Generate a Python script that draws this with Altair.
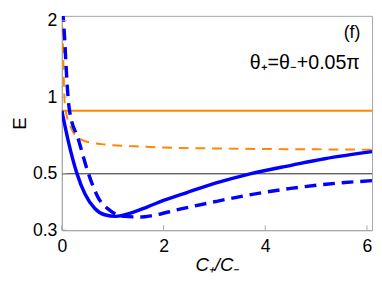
import altair as alt
import pandas as pd

# ---- data ----
x_orange_solid = [0.0, 6.1]
y_orange_solid = [0.885, 0.885]

x_orange_dash = [0.005, 0.02, 0.033, 0.044, 0.058, 0.1, 0.167, 0.231, 0.39, 0.6, 0.776, 1.0, 1.6, 2.0, 3.0, 3.9, 5.0, 6.1]
y_orange_dash = [2.2, 1.67, 1.33, 1.08, 0.94, 0.84, 0.77, 0.725, 0.68, 0.662, 0.654, 0.648, 0.639, 0.634, 0.629, 0.626, 0.624, 0.622]

x_blue_solid = [0.0, 0.135, 0.295, 0.456, 0.649, 0.841, 1.064, 1.35, 1.675, 2.0, 2.46, 3.0, 3.7, 4.53, 5.17, 6.1]
y_blue_solid = [0.885, 0.662, 0.503, 0.416, 0.365, 0.345, 0.340, 0.350, 0.370, 0.393, 0.422, 0.458, 0.500, 0.541, 0.573, 0.611]

x_blue_dash = [0.015, 0.058, 0.083, 0.11, 0.15, 0.327, 0.52, 0.712, 0.937, 1.226, 1.55, 1.8, 2.3, 3.0, 3.6, 4.5, 5.2, 6.1]
y_blue_dash = [2.2, 1.67, 1.33, 1.08, 0.89, 0.681, 0.503, 0.404, 0.360, 0.340, 0.338, 0.343, 0.362, 0.388, 0.410, 0.438, 0.455, 0.470]

x_ref_line = [0.0, 6.1]
y_ref_line = [0.5, 0.5]

x_tick_values = [0, 2, 4, 6]
y_tick_values = [0.3, 0.5, 1, 2]

label_text = ["(f)", "θ₊=θ₋+0.05π"]
label_x = [5.87, 5.86]
label_y = [1.79, 1.365]
label_size = [18, 20]

# ---- scales / axes ----
W, H = 317, 219
FONT = "Liberation Sans"
FRAME = "#a6a6a6"
xs = alt.Scale(domain=[0, 6.1], nice=False, zero=False)
ys = alt.Scale(type="log", domain=[0.3, 2.09], nice=False)

xaxis = alt.Axis(values=x_tick_values, title="C₊/C₋", ticks=False, grid=False,
                 labelPadding=8, titlePadding=0, titleFontStyle="italic",
                 labelFlush=False)
yaxis = alt.Axis(values=y_tick_values, title="E", ticks=False, grid=False, format="~g",
                 labelPadding=5, titleAngle=-90, titleX=-37, titleY=H / 2,
                 titleAlign="center", titleBaseline="alphabetic", labelFlush=False)


def enc(df):
    return alt.Chart(df).encode(
        x=alt.X("x:Q", scale=xs, axis=xaxis),
        y=alt.Y("y:Q", scale=ys, axis=yaxis),
    )


def line(x, y, color, width, dash=None):
    df = pd.DataFrame({"x": x, "y": y})
    kw = dict(color=color, strokeWidth=width, clip=True, interpolate="monotone")
    if dash:
        kw["strokeDash"] = dash
    return enc(df).mark_line(**kw)


ref = line(x_ref_line, y_ref_line, "#222222", 1)
o_solid = line(x_orange_solid, y_orange_solid, "#ff8800", 2)
o_dash = line(x_orange_dash, y_orange_dash, "#ff8800", 2, [10, 7])
b_solid = line(x_blue_solid, y_blue_solid, "#0000ff", 3.5)
b_dash = line(x_blue_dash, y_blue_dash, "#0000ff", 3.5, [12, 7])

# inward ticks
xt = alt.Chart(pd.DataFrame({"x": x_tick_values})).mark_rule(color=FRAME, strokeWidth=1).encode(
    x=alt.X("x:Q", scale=xs, axis=xaxis), y=alt.value(H), y2=alt.value(H - 5))
yt = alt.Chart(pd.DataFrame({"y": y_tick_values})).mark_rule(color=FRAME, strokeWidth=1).encode(
    y=alt.Y("y:Q", scale=ys, axis=yaxis), x=alt.value(0), x2=alt.value(5))

labels = enc(pd.DataFrame({"x": label_x, "y": label_y, "t": label_text, "s": label_size})).mark_text(
    align="right", baseline="middle", font=FONT, color="black"
).encode(text="t:N", size=alt.Size("s:Q", scale=None, legend=None))

chart = alt.layer(ref, o_solid, o_dash, b_solid, b_dash, xt, yt, labels).properties(
    width=W, height=H,
    autosize=alt.AutoSizeParams(type="none"),
    padding={"left": 55, "top": 5, "right": 2, "bottom": 55},
).configure_view(
    stroke=FRAME, strokeWidth=1
).configure_axis(
    domainColor=FRAME, domainWidth=1,
    labelFont=FONT, labelFontSize=18, labelColor="black",
    titleFont=FONT, titleFontSize=19, titleFontWeight="normal", titleColor="black",
)

chart.save("out.html", embed_options={"renderer": "svg", "actions": False})
